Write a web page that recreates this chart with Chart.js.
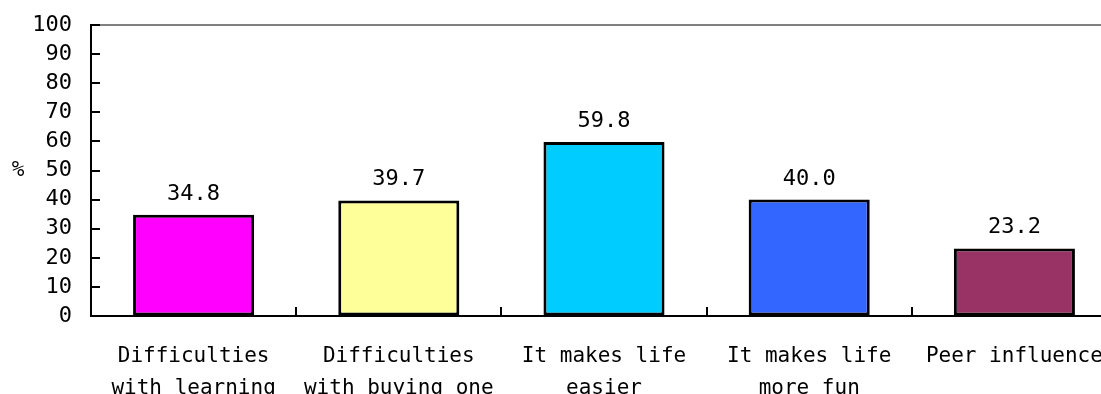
<!DOCTYPE html>
<html>
<head>
<meta charset="utf-8">
<script src="https://cdn.jsdelivr.net/npm/chart.js@4/dist/chart.umd.min.js"></script>
<style>
  html, body { margin: 0; padding: 0; background: #fff; overflow: hidden; }
  #wrap { width: 1101px; height: 394px; overflow: hidden; position: relative; }
  canvas { display: block; }
</style>
</head>
<body>
<div id="wrap"><canvas id="c" width="1117" height="430"></canvas></div>
<script>
// Reasons for using the device (percent of respondents)
const categories = [
  ["Difficulties", "with learning"],
  ["Difficulties", "with buying one"],
  ["It makes life", "easier"],
  ["It makes life", "more fun"],
  "Peer influence"
];
const percentages = [34.8, 39.7, 59.8, 40.0, 23.2];
const barColors = ["#FF00FF", "#FFFF99", "#00CCFF", "#3366FF", "#993366"];
const yTicks = [0, 10, 20, 30, 40, 50, 60, 70, 80, 90, 100];
const yUnit = "%";

const FONT = "'DejaVu Sans Mono', 'Liberation Mono', monospace";
const LABEL_SIZE = 21;
const NUM_SIZE = 22;

// Frame line, inward tick marks, value labels and the unit label
const decorations = {
  id: 'decorations',
  afterDatasetsDraw(chart) {
    const { ctx, chartArea, scales } = chart;
    const x = scales.x, y = scales.y;
    ctx.save();

    // grey top edge of the plot area
    ctx.strokeStyle = '#808080';
    ctx.lineWidth = 2;
    ctx.beginPath();
    ctx.moveTo(chartArea.left, y.getPixelForValue(100));
    ctx.lineTo(chartArea.right + 5, y.getPixelForValue(100));
    ctx.stroke();

    // y ticks pointing into the plot
    ctx.strokeStyle = '#000';
    ctx.lineWidth = 2;
    yTicks.forEach(v => {
      const py = Math.round(y.getPixelForValue(v));
      ctx.beginPath();
      ctx.moveTo(chartArea.left, py);
      ctx.lineTo(chartArea.left + 9, py);
      ctx.stroke();
    });

    // x category separators pointing up
    for (let i = 0; i < categories.length - 1; i++) {
      const px = Math.round((x.getPixelForValue(i) + x.getPixelForValue(i + 1)) / 2);
      ctx.beginPath();
      ctx.moveTo(px, chartArea.bottom);
      ctx.lineTo(px, chartArea.bottom - 9);
      ctx.stroke();
    }

    // value labels above bars
    ctx.fillStyle = '#000';
    ctx.font = NUM_SIZE + 'px ' + FONT;
    ctx.textAlign = 'center';
    ctx.textBaseline = 'alphabetic';
    const meta = chart.getDatasetMeta(0);
    meta.data.forEach((bar, i) => {
      ctx.fillText(percentages[i].toFixed(1), bar.x, bar.y - 15);
    });

    // unit label beside the y axis
    ctx.textAlign = 'center';
    ctx.textBaseline = 'middle';
    ctx.font = '21px ' + FONT;
    ctx.fillText(yUnit, 18, y.getPixelForValue(50));

    ctx.restore();
  }
};

new Chart(document.getElementById('c'), {
  type: 'bar',
  data: {
    labels: categories,
    datasets: [{
      data: percentages,
      backgroundColor: barColors,
      borderColor: '#000',
      borderWidth: 3,
      borderSkipped: false,
      categoryPercentage: 1,
      barPercentage: 0.59
    }]
  },
  options: {
    responsive: false,
    devicePixelRatio: 1,
    animation: false,
    layout: { padding: { top: 25, left: 0, right: 0, bottom: 0 } },
    plugins: {
      legend: { display: false },
      tooltip: { enabled: false }
    },
    scales: {
      x: {
        afterFit(scale) {
          scale.height = 430 - 316;
          scale.paddingLeft = 0;
          scale.paddingRight = 0;
        },
        grid: { display: true, drawOnChartArea: false, drawTicks: false },
        border: { color: '#000', width: 2 },
        ticks: {
          color: '#000',
          padding: 24,
          maxRotation: 0,
          autoSkip: false,
          font: { family: FONT, size: LABEL_SIZE, lineHeight: 1.55 }
        }
      },
      y: {
        min: 0,
        max: 100,
        afterFit(scale) {
          scale.width = 91;
          scale.paddingTop = 0;
          scale.paddingBottom = 0;
        },
        afterBuildTicks(scale) { scale.ticks = yTicks.map(v => ({ value: v })); },
        grid: { display: true, drawOnChartArea: false, drawTicks: false },
        border: { color: '#000', width: 2 },
        ticks: {
          color: '#000',
          padding: 19,
          autoSkip: false,
          font: { family: FONT, size: NUM_SIZE }
        }
      }
    }
  },
  plugins: [decorations]
});
</script>
</body>
</html>
